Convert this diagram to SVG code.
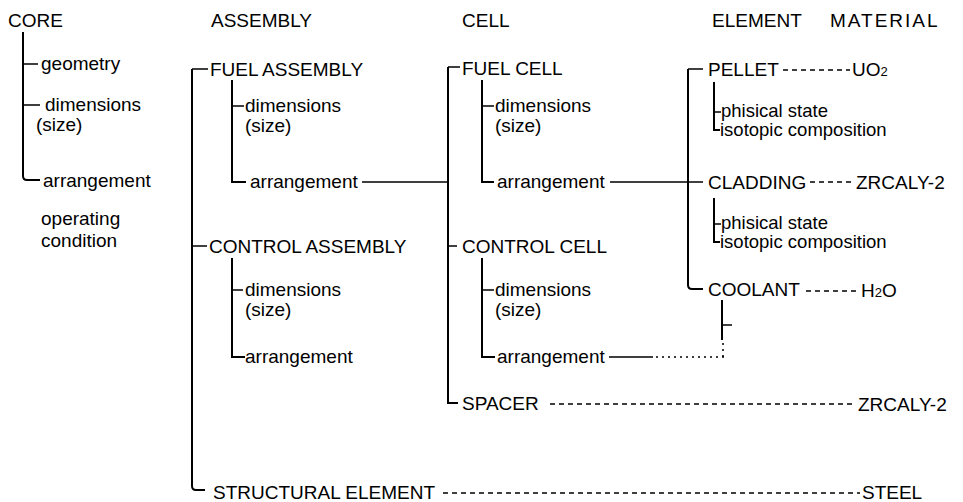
<svg xmlns="http://www.w3.org/2000/svg" width="963" height="502" viewBox="0 0 963 502">
<style>
text{font-family:"Liberation Sans",Arial,sans-serif;font-size:19px;fill:#000}
.s{font-size:18.5px}
.l{fill:none;stroke:#000;stroke-width:2}
.h{fill:none;stroke:#000;stroke-width:1.5}
.d{fill:none;stroke:#000;stroke-width:1.5;stroke-dasharray:5 4}
.p{fill:none;stroke:#000;stroke-width:1.5;stroke-dasharray:2 4}
</style>
<rect width="963" height="502" fill="#fff"/>
<g id="headers">
<text x="8" y="27">CORE</text>
<text x="211" y="27">ASSEMBLY</text>
<text x="462" y="27">CELL</text>
<text x="712" y="27">ELEMENT</text>
<text x="830" y="27" letter-spacing="2">MATERIAL</text>
</g>
<g id="connectors">
<path class="l" d="M23,32V176Q23,180 27,180H40"/>
<path class="h" d="M23,64H38M23,105H40"/>
<path class="l" d="M192,69V486Q192,490 196,490H205"/>
<path class="h" d="M192,69H208M192,246H207"/>
<path class="l" d="M232,80V182H246"/>
<path class="h" d="M232,106H244M362,182H448"/>
<path class="l" d="M232,258V357H245"/>
<path class="h" d="M232,290H243"/>
<path class="d" d="M443,493H860"/>
<path class="l" d="M448,67V403H458"/>
<path class="h" d="M448,67H460M448,246H457"/>
<path class="l" d="M482,80V182H494"/>
<path class="h" d="M482,106H494M610,182H703"/>
<path class="l" d="M482,258V357H495"/>
<path class="h" d="M482,290H494M609,357H653"/>
<path class="p" d="M656,357H728M723,357V340"/>
<path class="d" d="M550,404H855"/>
<path class="l" d="M688,69V285Q688,289 692,289H703"/>
<path class="h" d="M688,69H703"/>
<path class="d" d="M783,70H850M810,182H853M806,291H857"/>
<path class="l" d="M714,82V130H720M714,198V242H720"/>
<path class="h" d="M714,112H721M714,224H721"/>
<path class="l" d="M722,300V340"/>
<path class="h" d="M722,325H732"/>
</g>
<g id="core-node">
<text x="41" y="70">geometry</text>
<text x="45" y="111">dimensions</text>
<text x="36" y="131">(size)</text>
<text x="43" y="187">arrangement</text>
<text x="41" y="225">operating</text>
<text x="41" y="247">condition</text>
</g>
<g id="fuel-assembly">
<text x="210" y="76">FUEL ASSEMBLY</text>
<text x="245" y="112">dimensions</text>
<text x="245" y="132">(size)</text>
<text x="250" y="188">arrangement</text>
</g>
<g id="control-assembly">
<text x="209" y="253">CONTROL ASSEMBLY</text>
<text x="245" y="296">dimensions</text>
<text x="245" y="316">(size)</text>
<text x="245" y="363">arrangement</text>
</g>
<g id="structural-element">
<text x="213" y="499">STRUCTURAL ELEMENT</text>
</g>
<g id="fuel-cell">
<text x="462" y="75">FUEL CELL</text>
<text x="495" y="112">dimensions</text>
<text x="495" y="132">(size)</text>
<text x="497" y="188">arrangement</text>
</g>
<g id="control-cell">
<text x="462" y="253">CONTROL CELL</text>
<text x="495" y="296">dimensions</text>
<text x="495" y="316">(size)</text>
<text x="497" y="363">arrangement</text>
</g>
<g id="spacer">
<text x="462" y="410">SPACER</text>
</g>
<g id="pellet">
<text x="708" y="76">PELLET</text>
<text class="s" x="721" y="117">phisical state</text>
<text class="s" x="720" y="136">isotopic composition</text>
</g>
<g id="cladding">
<text x="708" y="189">CLADDING</text>
<text class="s" x="721" y="229">phisical state</text>
<text class="s" x="720" y="248">isotopic composition</text>
</g>
<g id="coolant">
<text x="708" y="296">COOLANT</text>
</g>
<g id="materials">
<text x="852" y="76">UO<tspan font-size="13">2</tspan></text>
<text x="856" y="189">ZRCALY-2</text>
<text x="861" y="297">H<tspan font-size="13">2</tspan>O</text>
<text x="858" y="411">ZRCALY-2</text>
<text x="862" y="499">STEEL</text>
</g>
</svg>
